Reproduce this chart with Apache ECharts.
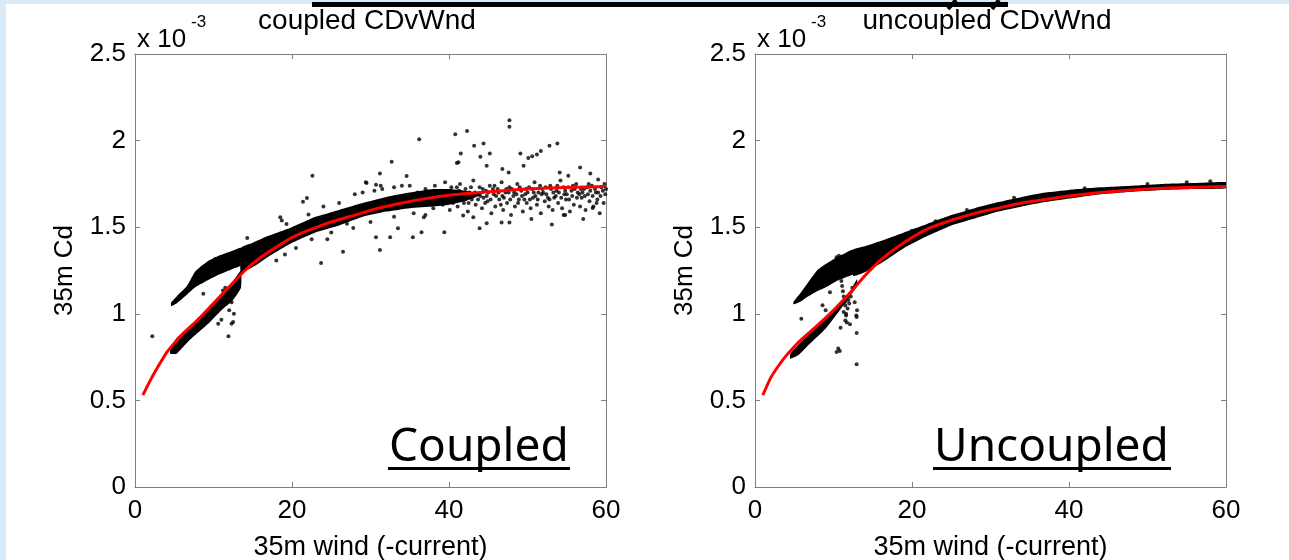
<!DOCTYPE html>
<html><head><meta charset="utf-8">
<script src="https://cdn.jsdelivr.net/npm/echarts@6/dist/echarts.min.js"></script>
<style>html,body{margin:0;padding:0;background:#fff}#c{width:1289px;height:560px}</style>
</head><body><div id="c"></div>
<script>
// ---- tick labels / titles ----
const xTicks = [0, 20, 40, 60];
const yTicks = [0, 0.5, 1, 1.5, 2, 2.5];
const panelTitles = ['coupled CDvWnd', 'uncoupled CDvWnd'];
const panelTags = ['Coupled', 'Uncoupled'];
const xName = '35m wind (-current)';
const yName = '35m Cd';

// ---- red fit curves (Cd x 1e-3) ----
const fitX = [1,2,3,4,5,6,8,10,12,14,16,18,20,22,25,28,31,34,37,40,44,48,52,56,60];
const coupledFit = [0.53,0.62,0.70,0.775,0.83,0.88,0.965,1.06,1.155,1.25,1.325,1.385,1.44,1.48,1.53,1.57,1.61,1.64,1.665,1.685,1.70,1.715,1.725,1.73,1.735];
const uncoupledFit = [0.53,0.63,0.70,0.76,0.81,0.855,0.935,1.02,1.115,1.22,1.31,1.38,1.44,1.49,1.54,1.58,1.61,1.64,1.66,1.68,1.70,1.715,1.725,1.73,1.735];

// ---- dense point clouds, as envelopes (x, lower, upper) ----
const cFanX  = [4.6,5.3,6.6,7.6,8.3,9.5,10.4,12.5,13.5];
const cFanLo = [1.045,1.06,1.11,1.15,1.17,1.20,1.22,1.26,1.28];
const cFanHi = [1.065,1.10,1.16,1.24,1.27,1.31,1.33,1.365,1.38];
const cMainX  = [13.5,15,17,20,23,26,29,32,35,38,40,42,44];
const cMainLo = [1.24,1.27,1.33,1.41,1.47,1.51,1.56,1.59,1.61,1.62,1.63,1.65,1.685];
const cMainHi = [1.38,1.41,1.45,1.50,1.56,1.60,1.64,1.675,1.70,1.72,1.72,1.71,1.695];
const cLowX  = [4.5,5.3,7,9.5,11,12.5,13.5];
const cLowLo = [0.77,0.77,0.85,0.95,1.02,1.08,1.15];
const cLowHi = [0.80,0.86,0.93,1.04,1.12,1.19,1.25];

const uFanX  = [4.9,5.8,6.6,7.9,9.1,10.4,11.5,12.5];
const uFanLo = [1.055,1.07,1.095,1.13,1.155,1.19,1.21,1.23];
const uFanHi = [1.07,1.12,1.17,1.25,1.29,1.327,1.35,1.37];
const uMainX  = [12.5,14,16,19,22,25,28,31,34,37,40,44,48,52,56,60];
const uMainLo = [1.22,1.24,1.29,1.38,1.45,1.51,1.55,1.59,1.62,1.645,1.665,1.69,1.705,1.715,1.72,1.725];
const uMainHi = [1.37,1.39,1.42,1.47,1.52,1.57,1.61,1.645,1.675,1.70,1.715,1.73,1.74,1.75,1.755,1.76];
const uLowX  = [4.5,5.5,6.6,8,9.1,10.8,12.1,13];
const uLowLo = [0.74,0.76,0.81,0.87,0.92,1.02,1.10,1.16];
const uLowHi = [0.77,0.82,0.87,0.93,0.98,1.06,1.13,1.20];

// ---- individual scattered points ----
const coupledPts = [
 [2.2,0.87],[8.7,1.116],[10.6,0.943],[11.0,0.966],[11.9,0.87],[12.3,0.943],[12.5,0.952],[11.2,1.135],[11.7,1.096],
 [12.3,1.067],[12.7,1.116],[10.8,1.058],[12.0,1.02],[12.6,1.0],[11.5,1.15],
 [10.2,1.317],[14.3,1.438],[18.0,1.308],[19.1,1.342],[18.5,1.557],[18.7,1.538],[19.3,1.519],[21.4,1.647],[21.9,1.669],
 [22.1,1.573],[22.6,1.797],[23.7,1.294],[26.5,1.358],[27.8,1.496],[20.5,1.38],[24.5,1.43],
 [29.4,1.759],[29.5,1.755],[30.7,1.745],[31.3,1.74],[31.2,1.81],[32.7,1.878],[34.6,1.795],[36.2,2.008],[40.8,2.037],
 [42.3,2.056],[43.2,1.97],[44.4,1.983],[41.5,1.926],[41.0,1.87],[41.2,1.875],[44.0,1.907],[45.2,1.926],[44.8,1.855],
 [47.7,2.118],[47.7,2.08],[49.1,1.926],[50.1,1.90],[50.6,1.91],[51.2,1.92],[51.7,1.94],[52.8,1.97],[53.8,1.983],
 [49.5,1.855],[46.8,1.836],[47.6,1.816],[56.7,1.845],[58.0,1.81],[54.1,1.816],[55.2,1.797],[59.0,1.776],
 [30.7,1.442],[32.5,1.442],[31.2,1.369],[35.4,1.442],[33.5,1.494],[36.5,1.471],[39.4,1.471],[43.9,1.494],[44.8,1.523],
 [46.7,1.527],[47.7,1.527],[53.1,1.515],[57.1,1.548],[50.5,1.548],[54.6,1.571],[54.8,1.571],[58.3,1.611],[36.8,1.557],
 [41.8,1.567],[43.1,1.557],
 [24,1.62],[26,1.64],[28,1.69],[29,1.70],[30.5,1.71],[31.5,1.72],[33,1.73],[34,1.74],[35,1.74],[25,1.47],[27,1.52],
 [30,1.53],[33,1.56],[35.5,1.58],[37,1.57],[22.5,1.43],
 [36,1.70],[36.5,1.66],[37,1.72],[37.3,1.64],[37.8,1.69],[38,1.61],[38.2,1.74],[38.6,1.67],[39,1.71],[39.2,1.63],
 [39.5,1.76],[39.8,1.68],[40.1,1.60],[40.3,1.73],[40.6,1.66],[40.9,1.70],[41.1,1.62],[41.4,1.75],[41.6,1.68],[41.9,1.64],
 [42.1,1.72],[42.4,1.59],[42.6,1.70],[42.9,1.66],[43.1,1.77],[43.4,1.63],[43.6,1.69],[43.9,1.73],[44.2,1.61],[44.4,1.67],
 [44.7,1.71],[44.9,1.65],[45.2,1.74],[45.4,1.58],[45.7,1.69],[45.9,1.62],[46.2,1.72],[46.4,1.66],[46.7,1.76],[46.9,1.60],
 [47.2,1.70],[47.4,1.64],[47.7,1.73],[47.9,1.57],[48.2,1.68],[48.4,1.62],[48.7,1.75],[48.9,1.66],[49.2,1.71],[49.4,1.59],
 [49.7,1.69],[49.9,1.64],[50.2,1.73],[50.4,1.61],[50.7,1.67],[50.9,1.76],[51.2,1.63],[51.4,1.70],[51.7,1.58],[51.9,1.72],
 [52.2,1.65],[52.4,1.69],[52.7,1.62],[52.9,1.74],[53.2,1.60],[53.4,1.67],[53.7,1.71],[53.9,1.64],[54.2,1.77],[54.4,1.61],
 [54.7,1.69],[54.9,1.66],[55.2,1.73],[55.4,1.59],[55.7,1.68],[55.9,1.63],[56.2,1.75],[56.4,1.70],[56.7,1.62],[56.9,1.67],
 [57.2,1.72],[57.4,1.60],[57.7,1.69],[57.9,1.65],[58.2,1.74],[58.4,1.62],[58.7,1.70],[58.9,1.66],[59.2,1.58],[59.4,1.73],
 [59.7,1.64],[59.9,1.69],
 [38.4,1.70],[39.6,1.65],[40.8,1.68],[41.3,1.71],[42.0,1.67],[42.8,1.73],[43.3,1.70],[44.0,1.68],[44.6,1.64],[45.0,1.70],
 [45.6,1.72],[46.0,1.68],[46.6,1.63],[47.0,1.67],[47.6,1.70],[48.0,1.72],[48.6,1.69],[49.0,1.73],[49.6,1.66],[50.0,1.70],
 [50.6,1.72],[51.0,1.68],[51.6,1.74],[52.0,1.70],[52.6,1.67],[53.0,1.72],[53.6,1.68],[54.0,1.70],[54.6,1.73],[55.0,1.69],
 [55.6,1.71],[56.0,1.72],[56.6,1.69],[57.0,1.70],[57.6,1.73],[58.0,1.71],[58.6,1.72],[59.0,1.70],[59.6,1.71],[60,1.72],
 [40.2,1.70],[40.5,1.64],[41.0,1.73],[41.7,1.66],[42.2,1.69],[42.5,1.64],[43.0,1.68],[43.7,1.66],[44.3,1.72],[44.8,1.68],
 [45.3,1.66],[45.8,1.74],[46.3,1.70],[46.8,1.68],[47.3,1.72],[47.8,1.66],[48.3,1.70],[48.8,1.64],[49.3,1.68],[49.8,1.72],
 [50.3,1.66],[50.8,1.70],[51.3,1.66],[51.8,1.69],[52.3,1.73],[52.8,1.66],[53.3,1.70],[53.8,1.74],[54.3,1.67],[54.8,1.71],
 [55.3,1.66],[55.8,1.74],[56.3,1.67],[56.8,1.72],[57.3,1.68],[57.8,1.75],[58.3,1.68],[58.8,1.64],[59.3,1.68],[59.8,1.75]
];
const uncoupledPts = [
 [5.9,0.972],[9.55,1.125],[11.5,1.048],[12.7,1.067],[11.6,1.0],[11.5,0.962],[12.95,0.981],[10.9,0.92],[12.95,0.889],
 [10.6,0.80],[10.8,0.785],[10.4,0.78],[12.95,0.709],[11.7,1.096],[11.9,1.08],[12.0,1.06],[11.8,1.03],[11.6,0.99],
 [11.7,0.95],[12.9,0.99],[13.0,1.02],[10.4,1.327],[10.7,1.335],[12.1,0.94],[11.0,1.19],[11.1,1.16],[11.2,1.13],
 [11.3,1.10],[11.5,1.07],[11.3,1.01],[12.2,1.10],[12.4,1.15],[9.0,1.02],[8.6,1.05],
 [20,1.48],[23,1.535],[27,1.60],[33,1.67],[42,1.725],[50,1.75],[55,1.76],[58,1.765]
];

function pairs(xs, ys) { return xs.map((x, i) => [x, ys[i]]); }

function band(gi, xs, lo, hi) {
  const data = xs.map((x, i) => [x, lo[i], hi[i]]);
  return {
    type: 'custom', xAxisIndex: gi * 2, yAxisIndex: gi * 2, data: data,
    encode: { x: 0, y: [1, 2] }, silent: true, z: 2, clip: true,
    renderItem: function (params, api) {
      if (params.dataIndex !== 0) return null;
      const pts = [];
      for (let i = 0; i < data.length; i++) pts.push(api.coord([data[i][0], data[i][1]]));
      for (let i = data.length - 1; i >= 0; i--) pts.push(api.coord([data[i][0], data[i][2]]));
      return { type: 'polygon', shape: { points: pts, smooth: 0.15 }, style: { fill: '#000' } };
    }
  };
}

const FONT = 'Liberation Sans';
const AX = '#7f7f7f';
const gridsPos = [{ left: 135 }, { left: 755 }];

const xAxes = [], yAxes = [];
gridsPos.forEach((g, gi) => {
  xAxes.push({
    gridIndex: gi, type: 'value', min: xTicks[0], max: xTicks[xTicks.length - 1], interval: 20, position: 'bottom',
    axisLine: { show: true, onZero: false, lineStyle: { color: AX, width: 1 } },
    axisTick: { show: true, inside: true, length: 5, lineStyle: { color: AX } },
    axisLabel: { color: '#000', fontSize: 26, fontFamily: FONT, margin: 11 },
    splitLine: { show: false },
    name: xName, nameLocation: 'middle', nameGap: 47,
    nameTextStyle: { color: '#000', fontSize: 27, fontFamily: FONT }
  });
  xAxes.push({
    gridIndex: gi, type: 'value', min: xTicks[0], max: xTicks[xTicks.length - 1], interval: 20, position: 'top',
    axisLine: { show: true, onZero: false, lineStyle: { color: AX, width: 1 } },
    axisTick: { show: true, inside: true, length: 5, lineStyle: { color: AX } },
    axisLabel: { show: false }, splitLine: { show: false }
  });
  yAxes.push({
    gridIndex: gi, type: 'value', min: yTicks[0], max: yTicks[yTicks.length - 1], interval: 0.5, position: 'left',
    axisLine: { show: true, onZero: false, lineStyle: { color: AX, width: 1 } },
    axisTick: { show: true, inside: true, length: 5, lineStyle: { color: AX } },
    axisLabel: { color: '#000', fontSize: 26, fontFamily: FONT, margin: 9 },
    splitLine: { show: false },
    name: yName, nameLocation: 'middle', nameGap: 57, nameRotate: 90,
    nameTextStyle: { color: '#000', fontSize: 26, fontFamily: FONT }
  });
  yAxes.push({
    gridIndex: gi, type: 'value', min: yTicks[0], max: yTicks[yTicks.length - 1], interval: 0.5, position: 'right',
    axisLine: { show: true, onZero: false, lineStyle: { color: AX, width: 1 } },
    axisTick: { show: true, inside: true, length: 5, lineStyle: { color: AX } },
    axisLabel: { show: false }, splitLine: { show: false }
  });
});

function scatter(gi, pts) {
  return { type: 'scatter', xAxisIndex: gi * 2, yAxisIndex: gi * 2, data: pts, symbol: 'circle', symbolSize: 4,
    itemStyle: { color: '#000' }, silent: true, z: 3 };
}
function fit(gi, ys) {
  return { type: 'line', xAxisIndex: gi * 2, yAxisIndex: gi * 2, data: pairs(fitX, ys), smooth: 0.25,
    showSymbol: false, lineStyle: { color: '#ff0000', width: 3 }, silent: true, z: 5 };
}

const series = [
  band(0, cFanX, cFanLo, cFanHi), band(0, cMainX, cMainLo, cMainHi), band(0, cLowX, cLowLo, cLowHi),
  scatter(0, coupledPts), fit(0, coupledFit),
  band(1, uFanX, uFanLo, uFanHi), band(1, uMainX, uMainLo, uMainHi), band(1, uLowX, uLowLo, uLowHi),
  scatter(1, uncoupledPts), fit(1, uncoupledFit)
];

const BLUE = '#d9eaf9';
const graphic = [
  { type: 'rect', left: 0, top: 0, shape: { width: 1289, height: 4 }, style: { fill: BLUE }, silent: true },
  { type: 'rect', left: 0, top: 0, shape: { width: 6, height: 560 }, style: { fill: BLUE }, silent: true },
  { type: 'rect', left: 312, top: 2, shape: { width: 696, height: 5 }, style: { fill: '#000' }, silent: true },
  { type: 'polyline', shape: { points: [[956, 0], [948, 9]] }, style: { stroke: '#000', lineWidth: 4 }, silent: true },
  { type: 'polyline', shape: { points: [[999, 0], [992, 9]] }, style: { stroke: '#000', lineWidth: 4 }, silent: true }
];
[370, 990].forEach((cx, gi) => {
  const left = gridsPos[gi].left;
  graphic.push({ type: 'text', x: cx - 3, y: 21, style: { text: panelTitles[gi], fill: '#000', font: '28px "Liberation Sans"', textAlign: 'center', textVerticalAlign: 'middle' }, silent: true });
  graphic.push({ type: 'text', x: left + 2, y: 40, style: { text: 'x 10', fill: '#000', font: '26px "Liberation Sans"', textAlign: 'left', textVerticalAlign: 'middle' }, silent: true });
  graphic.push({ type: 'text', x: left + 56, y: 22, style: { text: '-3', fill: '#000', font: '17px "Liberation Sans"', textAlign: 'left', textVerticalAlign: 'middle' }, silent: true });
});
[[389, 570, 'Coupled'], [934, 1171, 'Uncoupled']].forEach((t, gi) => {
  graphic.push({ type: 'text', x: t[0], y: 448, style: { text: panelTags[gi], fill: '#000', font: '46px "Noto Sans"', textAlign: 'left', textVerticalAlign: 'middle' }, silent: true });
  graphic.push({ type: 'rect', left: t[0] - 1, top: 467, shape: { width: t[1] - t[0] + 1, height: 3 }, style: { fill: '#000' }, silent: true });
});

const chart = echarts.init(document.getElementById('c'), null, { renderer: 'canvas' });
chart.setOption({
  animation: false,
  backgroundColor: '#ffffff',
  grid: gridsPos.map(g => ({ left: g.left, top: 54, width: 471, height: 433, containLabel: false, outerBoundsMode: 'none' })),
  xAxis: xAxes, yAxis: yAxes, series: series, graphic: graphic
});
</script></body></html>
